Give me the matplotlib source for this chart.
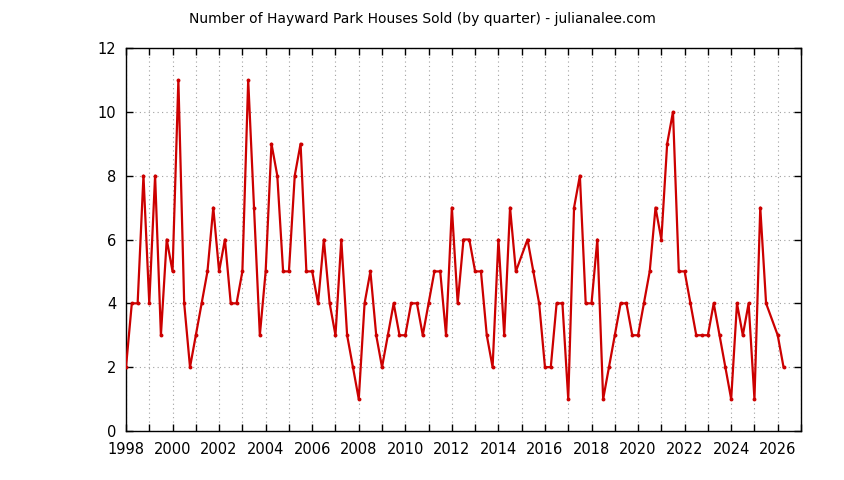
import numpy as np
import matplotlib
matplotlib.use("Agg")
import matplotlib.pyplot as plt
from matplotlib.ticker import MultipleLocator, FuncFormatter

# quarterly sales, (year, quarter) -> houses sold; 2015 Q1 and 2025 Q4 missing
years = [1998] * 4 + [1999] * 4 + [2000] * 4 + [2001] * 4 + [2002] * 4 \
    + [2003] * 4 + [2004] * 4 + [2005] * 4 + [2006] * 4 + [2007] * 4 \
    + [2008] * 4 + [2009] * 4 + [2010] * 4 + [2011] * 4 + [2012] * 4 \
    + [2013] * 4 + [2014] * 4 + [2015] * 3 + [2016] * 4 + [2017] * 4 \
    + [2018] * 4 + [2019] * 4 + [2020] * 4 + [2021] * 4 + [2022] * 4 \
    + [2023] * 4 + [2024] * 4 + [2025] * 3 + [2026] * 2
quarters = [1, 2, 3, 4] * 17 + [2, 3, 4] + [1, 2, 3, 4] * 9 + [1, 2, 3] + [1, 2]
sold = [
    2, 4, 4, 8,
    4, 8, 3, 6,
    5, 11, 4, 2,
    3, 4, 5, 7,
    5, 6, 4, 4,
    5, 11, 7, 3,
    5, 9, 8, 5,
    5, 8, 9, 5,
    5, 4, 6, 4,
    3, 6, 3, 2,
    1, 4, 5, 3,
    2, 3, 4, 3,
    3, 4, 4, 3,
    4, 5, 5, 3,
    7, 4, 6, 6,
    5, 5, 3, 2,
    6, 3, 7, 5,
    6, 5, 4,
    2, 2, 4, 4,
    1, 7, 8, 4,
    4, 6, 1, 2,
    3, 4, 4, 3,
    3, 4, 5, 7,
    6, 9, 10, 5,
    5, 4, 3, 3,
    3, 4, 3, 2,
    1, 4, 3, 4,
    1, 7, 4,
    3, 2,
]

x = np.array(years) + (np.array(quarters) - 1) / 4.0

fig = plt.figure(figsize=(8.44, 4.8), dpi=100)
ax = fig.add_axes([126 / 844, 1 - 431 / 480, (801 - 126) / 844, (431 - 48) / 480])

ax.plot(x, sold, color="#cc0000", linewidth=1.6, marker="o", markersize=2.8,
        markeredgewidth=0, zorder=3)

ax.set_xlim(1998, 2027)
ax.set_ylim(0, 12)
ax.xaxis.set_major_locator(MultipleLocator(1))
ax.xaxis.set_major_formatter(FuncFormatter(lambda v, p: f"{int(v)}" if int(round(v)) % 2 == 0 and v < 2027 else ""))
ax.yaxis.set_major_locator(MultipleLocator(2))

ax.grid(True, linestyle=(0, (1, 3)), color="#a0a0a0", linewidth=0.8)
ax.tick_params(direction="in", length=5, width=1, top=True, right=True,
               labelsize=10.5)
ax.tick_params(axis="x", pad=8)
ax.tick_params(axis="y", pad=7)
for s in ax.spines.values():
    s.set_linewidth(1)

fig.text(0.5, 1 - 19 / 480, "Number of Hayward Park Houses Sold (by quarter) - julianalee.com",
         ha="center", va="center", fontsize=10)

fig.savefig("out.png", dpi=100)
